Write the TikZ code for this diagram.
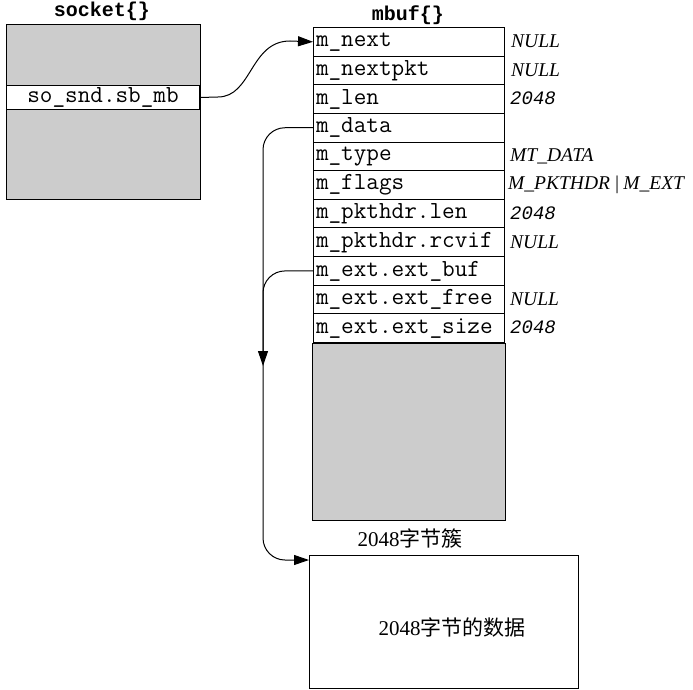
\documentclass[tikz,border=0pt]{standalone}
\usepackage{fontspec}
\setmainfont{Liberation Serif}
\setmonofont{Latin Modern Mono}
\newfontfamily\titlemono{Liberation Mono}
\newfontfamily\cjk{Noto Sans CJK SC}
\usetikzlibrary{arrows.meta}
\definecolor{boxgray}{HTML}{CCCCCC}
\begin{document}
\begin{tikzpicture}[x=1pt,y=-1pt,
  every node/.style={inner sep=0pt},
  field/.style={draw, fill=white, line width=1pt, anchor=north west,
    minimum width=191pt, minimum height=28.64pt, text width=186pt, align=left,
    font=\fontsize{24.5}{24.5}\selectfont\ttfamily},
  title/.style={font=\fontsize{20}{20}\selectfont\titlemono\bfseries},
  valserif/.style={anchor=west, font=\fontsize{19.5}{19.5}\selectfont\itshape},
  valmono/.style={anchor=west, font=\fontsize{19}{19}\selectfont\titlemono\itshape},
  cn/.style={font=\fontsize{21}{21}\selectfont},
  ptr/.style={line width=1pt, -{Triangle[length=15pt,width=10pt]}}]
\useasboundingbox (0,0) rectangle (693,690);

% socket structure
\node[title] (socktitle) at (102,11) {socket\{\}};
\node[draw, fill=boxgray, line width=1pt, anchor=north west,
  minimum width=194pt, minimum height=175pt] (sock) at (6,24) {};
\node[draw, fill=white, line width=1pt, anchor=north west,
  minimum width=193pt, minimum height=24pt,
  font=\fontsize{24.5}{24.5}\selectfont\ttfamily] (sosnd) at (6,85) {so\_snd.sb\_mb};

% mbuf structure
\node[title] (mbuftitle) at (408,15) {mbuf\{\}};
\node[field] (mnext)    at (313,27)       {m\_next};
\node[field] (mnextpkt) at (313,55.64)    {m\_nextpkt};
\node[field] (mlen)     at (313,84.28)    {m\_len};
\node[field] (mdata)    at (313,112.92)   {m\_data};
\node[field] (mtype)    at (313,141.56)   {m\_type};
\node[field] (mflags)   at (313,170.20)   {m\_flags};
\node[field] (phlen)    at (313,198.84)   {m\_pkthdr.len};
\node[field] (rcvif)    at (313,227.48)   {m\_pkthdr.rcvif};
\node[field] (extbuf)   at (313,256.12)   {m\_ext.ext\_buf};
\node[field] (extfree)  at (313,284.76)   {m\_ext.ext\_free};
\node[field] (extsize)  at (313,313.40)   {m\_ext.ext\_size};

% values
\node[valserif] (v1) at (511,41.3)  {NULL};
\node[valserif] (v2) at (511,69.9)  {NULL};
\node[valmono]  (v3) at (510,98.6)  {2048};
\node[valserif] (v5) at (510,155.9) {MT\_DATA};
\node[valserif] (v6) at (508,184.5) {M\_PKTHDR\hspace{4pt}|\hspace{4pt}M\_EXT};
\node[valmono]  (v7) at (510,213.2) {2048};
\node[valserif] (v8) at (510,241.8) {NULL};
\node[valserif] (v10) at (510,299.1) {NULL};
\node[valmono]  (v11) at (510,327.7) {2048};

% cluster
\node[draw, fill=boxgray, line width=1pt, anchor=north west,
  minimum width=193pt, minimum height=177pt] (cluster) at (312,342.5) {};
\node[cn] (clabel) at (410,538) {2048{\cjk 字节簇}};

% data box
\node[draw, line width=1pt, anchor=north west,
  minimum width=269pt, minimum height=133pt] (dbox) at (309,555) {};
\node[cn] (dlabel) at (452,627) {2048{\cjk 字节的数据}};
\coordinate (din) at (309,560);

% pointers
\draw[ptr] (sosnd.east) -- (218,97) .. controls (252,97) and (250,41) .. (290,41) -- (mnext.west);
\draw[ptr, rounded corners=22pt] (mdata.west) -| (263,560) -- (din);
\draw[ptr, rounded corners=22pt] (extbuf.west) -| (263,366);
\end{tikzpicture}
\end{document}
